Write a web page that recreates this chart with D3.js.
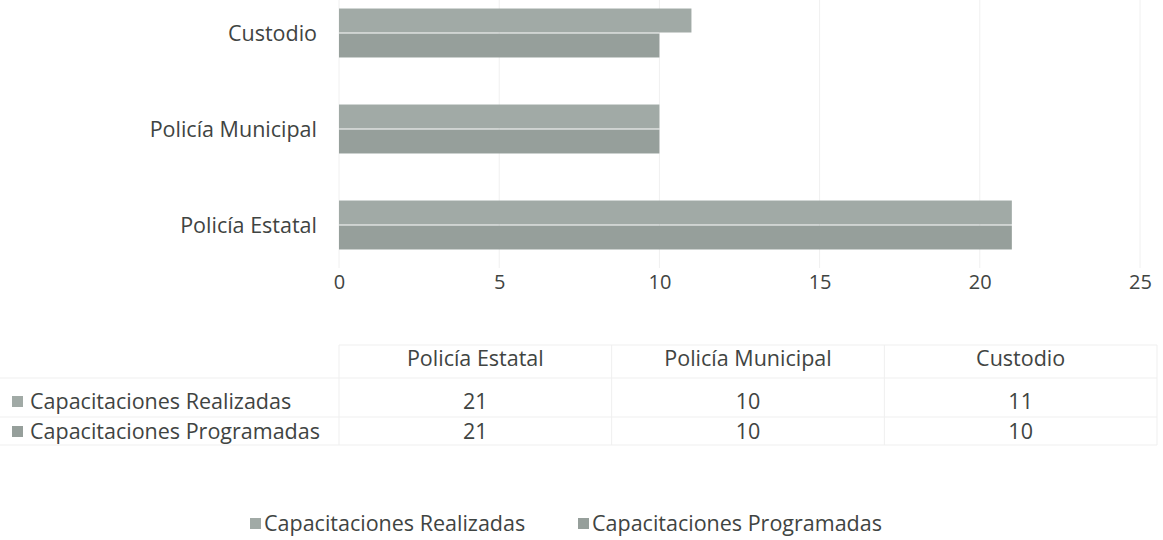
<!DOCTYPE html>
<html>
<head>
<meta charset="utf-8">
<script src="https://cdn.jsdelivr.net/npm/d3@7"></script>
<style>
  body { margin: 0; background: #fff; }
  svg { display: block; }
  text { font-family: "Open Sans", "Noto Sans", sans-serif; fill: #3f4442; }
</style>
</head>
<body>
<svg id="chart" width="1163" height="540"></svg>
<script>
// ── data ──
const categories = ['Policía Estatal', 'Policía Municipal', 'Custodio'];
const seriesNames = ['Capacitaciones Realizadas', 'Capacitaciones Programadas'];
const realizadas = [21, 10, 11];
const programadas = [21, 10, 10];
const xTicks = [0, 5, 10, 15, 20, 25];

const seriesColors = ['#a1aaa6', '#969f9b'];
const seriesValues = [realizadas, programadas];
const FS = 21.5;

const svg = d3.select('#chart');
const margin = { left: 339, right: 23 };
const W = 1163 - margin.left - margin.right;

const x = d3.scaleLinear().domain([0, 25]).range([margin.left, margin.left + W]);

// categories bottom-up (first category at the bottom)
const y = d3.scaleBand()
  .domain(categories.slice().reverse())
  .range([-15, 273])
  .paddingInner(0.49)
  .paddingOuter(0.245);

const ySub = d3.scaleBand().domain([0, 1]).range([0, y.bandwidth()]).paddingInner(0.04);

// gridlines
svg.append('g')
  .selectAll('line')
  .data(xTicks)
  .enter().append('line')
    .attr('x1', d => x(d)).attr('x2', d => x(d))
    .attr('y1', 0).attr('y2', 268)
    .attr('stroke', '#f0f0f0')
    .attr('stroke-width', 1);

// bars
const groups = svg.append('g')
  .selectAll('g')
  .data(categories)
  .enter().append('g')
    .attr('transform', d => `translate(0,${y(d)})`);

groups.selectAll('rect')
  .data((d, i) => seriesValues.map((s, k) => ({ k, v: s[i] })))
  .enter().append('rect')
    .attr('x', x(0))
    .attr('y', d => ySub(d.k))
    .attr('width', d => x(d.v) - x(0))
    .attr('height', ySub.bandwidth())
    .attr('fill', d => seriesColors[d.k]);

// category labels
svg.append('g')
  .selectAll('text')
  .data(categories)
  .enter().append('text')
    .attr('x', 317)
    .attr('y', d => y(d) + y.bandwidth() / 2)
    .attr('dy', '0.35em')
    .attr('text-anchor', 'end')
    .attr('font-size', FS)
    .text(d => d);

// x axis labels
const xAxis = svg.append('g')
  .attr('transform', 'translate(0,282)')
  .call(d3.axisBottom(x).tickValues(xTicks).tickSize(0).tickPadding(0));
xAxis.select('.domain').remove();
xAxis.selectAll('text')
  .attr('font-size', 20)
  .attr('font-family', '"Open Sans", sans-serif')
  .attr('dy', '0.35em')
  .attr('fill', '#3f4442');

// ── data table ──
const col = d3.scaleBand().domain(categories).range([339, 1157]);
const rowY = [358, 401, 431];
const lineY = [345, 378, 417, 445];

const tbl = svg.append('g');
tbl.selectAll('.hline')
  .data(lineY)
  .enter().append('line')
    .attr('x1', (d, i) => i === 0 ? 339 : 0).attr('x2', 1157)
    .attr('y1', d => d).attr('y2', d => d)
    .attr('stroke', '#efefef');
tbl.selectAll('.vline')
  .data(categories.map(c => col(c)).concat([1157]))
  .enter().append('line')
    .attr('x1', d => d).attr('x2', d => d)
    .attr('y1', 345).attr('y2', 445)
    .attr('stroke', '#efefef');

tbl.selectAll('.head')
  .data(categories)
  .enter().append('text')
    .attr('x', d => col(d) + col.bandwidth() / 2)
    .attr('y', rowY[0])
    .attr('dy', '0.35em')
    .attr('text-anchor', 'middle')
    .attr('font-size', FS)
    .text(d => d);

seriesNames.forEach((name, k) => {
  tbl.append('rect')
    .attr('x', 12).attr('y', rowY[k + 1] - 5)
    .attr('width', 11).attr('height', 11)
    .attr('fill', seriesColors[k]);
  tbl.append('text')
    .attr('x', 30).attr('y', rowY[k + 1])
    .attr('dy', '0.35em')
    .attr('font-size', FS)
    .text(name);
  tbl.selectAll('.val' + k)
    .data(categories)
    .enter().append('text')
      .attr('x', d => col(d) + col.bandwidth() / 2)
      .attr('y', rowY[k + 1])
      .attr('dy', '0.35em')
      .attr('text-anchor', 'middle')
      .attr('font-size', FS)
      .text((d, i) => seriesValues[k][i]);
});

// ── legend ──
const legendX = [250, 578];
const leg = svg.append('g').attr('transform', 'translate(0,523)');
seriesNames.forEach((name, k) => {
  leg.append('rect')
    .attr('x', legendX[k]).attr('y', -5)
    .attr('width', 11).attr('height', 11)
    .attr('fill', seriesColors[k]);
  leg.append('text')
    .attr('x', legendX[k] + 14)
    .attr('dy', '0.35em')
    .attr('font-size', FS)
    .text(name);
});
</script>
</body>
</html>
